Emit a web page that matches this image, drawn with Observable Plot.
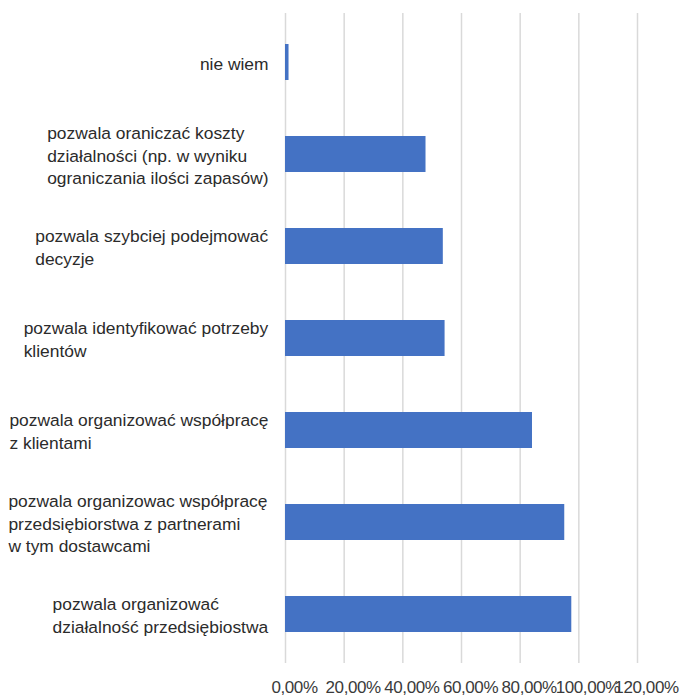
<!DOCTYPE html>
<html>
<head>
<meta charset="utf-8">
<script src="https://cdn.jsdelivr.net/npm/d3@7"></script>
<script src="https://cdn.jsdelivr.net/npm/@observablehq/plot@0.6"></script>
<style>
  html, body { margin: 0; padding: 0; background: #ffffff; }
  .xticks text { letter-spacing: -0.4px; }
</style>
</head>
<body>
<div id="chart"></div>
<script>
const categories = [
  "nie wiem",
  "pozwala oraniczać koszty\ndziałalności (np. w wyniku\nograniczania ilości zapasów)",
  "pozwala szybciej podejmować\ndecyzje",
  "pozwala identyfikować potrzeby\nklientów",
  "pozwala organizować współpracę\nz klientami",
  "pozwala organizowac współpracę\nprzedsiębiorstwa z partnerami\nw tym dostawcami",
  "pozwala organizować\ndziałalność przedsiębiostwa"
];
const values = [1.2, 47.9, 53.8, 54.4, 84.2, 95.2, 97.6];
const xTicks = [0, 20, 40, 60, 80, 100, 120];

const data = categories.map((c, i) => ({label: c, value: values[i]}));
const fmt = d => d.toFixed(2).replace(".", ",") + "%";

const chart = Plot.plot({
  width: 696,
  height: 697,
  marginLeft: 285,
  marginRight: 59,
  marginTop: 13,
  marginBottom: 34,
  style: {
    fontFamily: "'Liberation Sans', Arial, sans-serif",
    fontSize: "17px",
    color: "#404040",
    background: "#ffffff"
  },
  x: {domain: [0, 120], ticks: xTicks, axis: null},
  y: {domain: categories, paddingInner: 0.61, paddingOuter: 0.305, axis: null},
  marks: [
    Plot.ruleX(xTicks, {stroke: "#d9d9d9", strokeWidth: 1.5}),
    Plot.barX(data, {x: "value", y: "label", fill: "#4472C4"}),
    Plot.axisX({
      ticks: xTicks, tickFormat: fmt, tickSize: 0, tickPadding: 17,
      label: null, fontSize: 17, fill: "#3a3a3a", dx: 9, className: "xticks"
    }),
    Plot.text(data, {
      y: "label",
      text: "label",
      frameAnchor: "left",
      textAnchor: "start",
      lineAnchor: "middle",
      lineHeight: 1.3,
      dx: -17,
      fill: "#2b2b2b",
      fontSize: 17.4,
      className: "ylabels"
    })
  ]
});

document.getElementById("chart").appendChild(chart);

// Right-align each label block while keeping its lines left-aligned
chart.querySelectorAll(".ylabels text").forEach(t => {
  const w = t.getBBox().width;
  const tr = t.getAttribute("transform") || "";
  t.setAttribute("transform", (tr + " translate(" + (-w) + ",0)").trim());
});
</script>
</body>
</html>
